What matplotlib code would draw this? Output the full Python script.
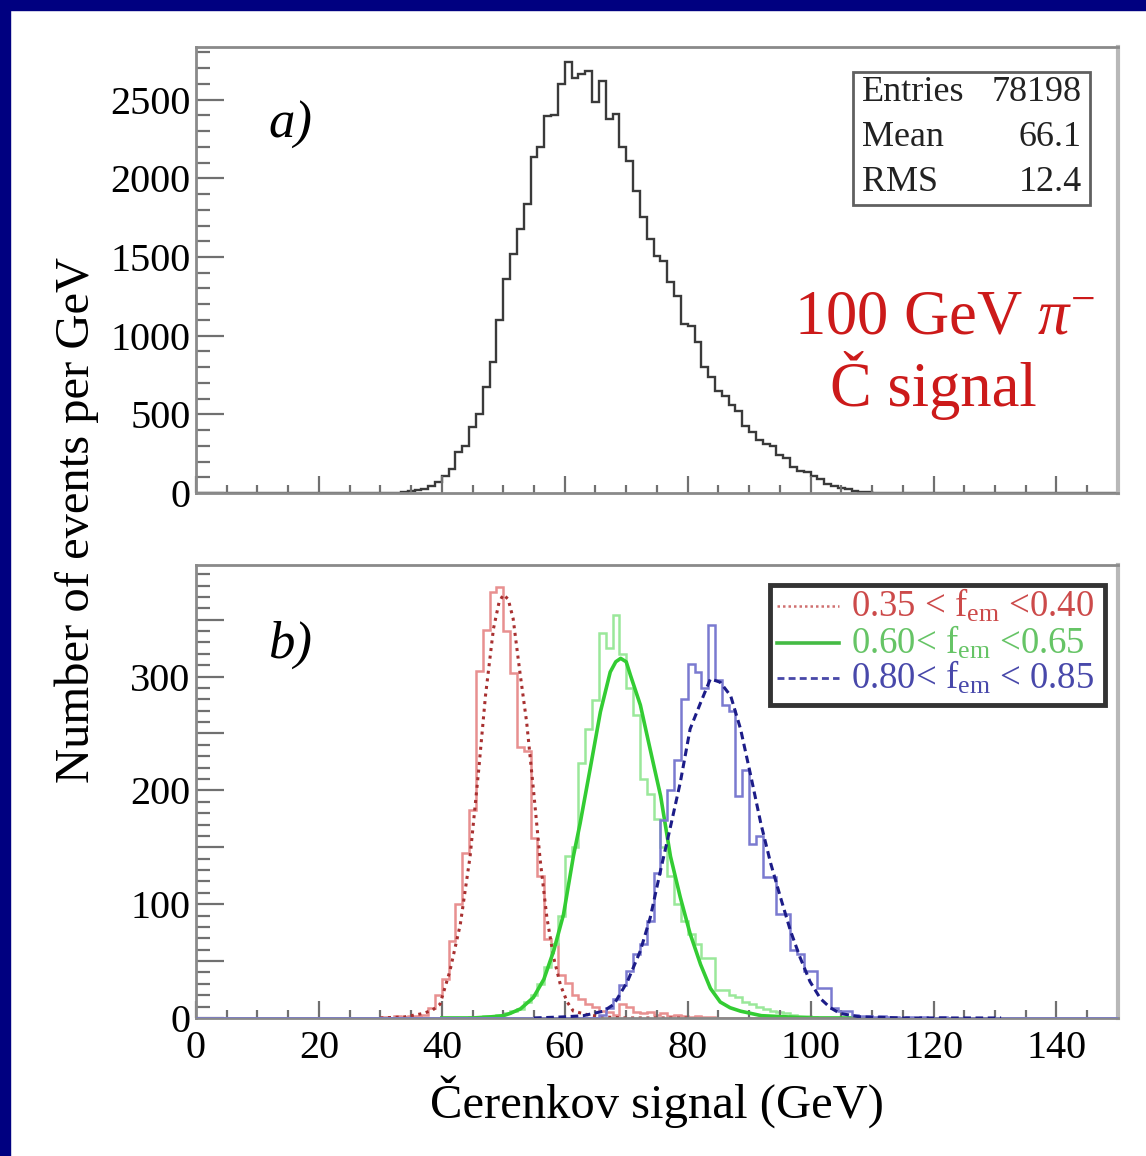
import numpy as np
import matplotlib
matplotlib.use("Agg")
import matplotlib.pyplot as plt
from matplotlib.patches import Rectangle
from matplotlib.ticker import MultipleLocator, FuncFormatter

plt.rcParams['font.family'] = ['Liberation Serif', 'DejaVu Serif']
plt.rcParams['mathtext.fontset'] = 'custom'
plt.rcParams['mathtext.rm'] = 'Liberation Serif'
plt.rcParams['mathtext.it'] = 'Liberation Serif:italic'

# binning: 135 bins over 0-150 GeV
n_bins = 135
x_max = 150.0

# a) all events, counts per GeV, values start at bin a_first
a_first = 27
a_counts = [0, 2, 3, 6, 10, 18, 28, 45, 68,
            110, 152, 258, 301, 417, 502, 671, 830, 1100, 1360,
            1519, 1677, 1836, 2133, 2196, 2398, 2400, 2600, 2736, 2635,
            2662, 2683, 2482, 2620, 2376, 2408, 2196, 2112, 1921, 1752,
            1614, 1508, 1476, 1339, 1254, 1074, 1063, 957, 798, 735,
            650, 618, 560, 520, 428, 390, 340, 311, 300, 240,
            220, 163, 140, 131, 110, 89, 60, 47, 30, 25, 12, 8, 5, 2]

# b) three f_em slices
red_first = 27
red_counts = [1, 0, 2, 1, 2, 2, 3, 9, 20, 34, 68, 100, 145, 183, 305, 341,
              374, 379, 340, 303, 238, 235, 158, 125, 69, 65, 38, 31, 20,
              17, 12, 10, 6, 5, 3, 12, 10, 5, 4, 5, 3, 4, 2, 3, 2, 1, 2, 1, 1]

green_first = 40
green_counts = [1, 1, 2, 2, 3, 4, 6, 8, 14, 20, 30, 45, 65, 90, 142, 150,
                224, 254, 279, 338, 325, 354, 320, 290, 266, 210, 197, 175,
                150, 125, 100, 85, 74, 65, 53, 53, 25, 25, 20, 18, 14, 12,
                10, 8, 6, 5, 4, 3, 2, 2, 1]

blue_first = 59
blue_counts = [3, 9, 17, 29, 41, 56, 65, 85, 127, 174, 200, 227, 280, 311,
               304, 290, 345, 297, 275, 270, 195, 218, 153, 160, 124, 124,
               91, 91, 60, 56, 41, 41, 26, 26, 9, 6, 6, 3, 2, 2, 1, 2, 1,
               1, 0, 1, 0, 1, 0, 0, 1]

# fitted curves
red_fit_x = [30, 34, 37, 38.5, 39.7, 41.3, 43.0, 44.6, 46.0, 47.1, 48.4, 49.3,
             50.0, 50.8, 51.6, 52.7, 53.8, 54.9, 56.0, 57.1, 58.2, 59.3, 60.4,
             61.4, 63.6, 65.8, 70, 75, 80]
red_fit_y = [0, 1, 4, 7, 12, 41, 82, 142, 218, 283, 342, 365, 372, 368, 351,
             304, 260, 201, 139, 88, 53, 29, 14, 6, 3, 1, 0, 0, 0]

green_fit_x = [40, 45, 48, 50, 51.1, 52.8, 54.9, 56.6, 58.2, 59.8, 61.4, 62.5,
               64.1, 65.8, 67.4, 68.3, 69.1, 70.0, 70.7, 72.3, 73.9, 75.6,
               77.2, 78.8, 80.4, 82.1, 83.7, 85.3, 86.9, 88.6, 92, 96, 100, 109]
green_fit_y = [0, 0, 1, 2, 4, 8, 18, 34, 59, 91, 142, 171, 218, 269, 304, 313,
               316, 313, 301, 275, 236, 195, 142, 106, 74, 47, 26, 14, 9, 6,
               2, 1, 0, 0]

blue_fit_x = [55, 60, 63, 66.3, 68.0, 70.2, 72.3, 73.9, 75.6, 77.2, 78.8, 80.4,
              82.1, 83.7, 85.3, 87.0, 88.6, 90.3, 91.9, 93.5, 95.1, 96.7, 98.3,
              99.9, 101.6, 103.2, 104.8, 108, 115, 131]
blue_fit_y = [0, 1, 2, 6, 12, 32, 59, 88, 130, 168, 207, 254, 277, 298, 295,
              283, 254, 212, 171, 136, 106, 77, 53, 32, 17, 9, 4, 1, 0, 0]

legend_labels = [r'0.35 < f$_{\rm em}$ <0.40',
                 r'0.60< f$_{\rm em}$ <0.65',
                 r'0.80< f$_{\rm em}$ < 0.85']

stats = [("Entries", "78198"), ("Mean", "66.1"), ("RMS", "12.4")]


def full(first, vals):
    h = np.zeros(n_bins)
    h[first:first + len(vals)] = vals
    return h


edges = np.linspace(0, x_max, n_bins + 1)

fig = plt.figure(figsize=(11.46, 11.56), dpi=100)
fig.patch.set_facecolor('white')
# navy slide border on left and top
fig.patches.append(Rectangle((0, 0), 10 / 1146, 1, transform=fig.transFigure,
                             color='#000080', zorder=-1))
fig.patches.append(Rectangle((0, 1 - 10 / 1156), 1, 10 / 1156,
                             transform=fig.transFigure, color='#000080', zorder=-1))

ax_a = fig.add_axes([0.171, 0.5735, 0.8045, 0.3858])
ax_b = fig.add_axes([0.171, 0.1194, 0.8045, 0.3918])


def style(ax):
    ax.set_xlim(0, x_max)
    for s in ax.spines.values():
        s.set_color('#8a8a8a')
        s.set_linewidth(2)
    ax.spines['right'].set_color('#b8b8b8')
    ax.spines['right'].set_linewidth(3)
    ax.xaxis.set_major_locator(MultipleLocator(20))
    ax.xaxis.set_minor_locator(MultipleLocator(5))
    ax.tick_params(axis='both', which='both', direction='in', color='#707070',
                   width=1.6, top=False, right=False, labelsize=29)
    ax.tick_params(axis='y', which='major', length=20, pad=4)
    ax.tick_params(axis='y', which='minor', length=10)
    ax.tick_params(axis='x', which='major', length=12, pad=9)
    ax.tick_params(axis='x', which='minor', length=6)


# ---- panel a
style(ax_a)
ax_a.set_ylim(0, 2834)
ax_a.yaxis.set_major_locator(MultipleLocator(500))
ax_a.yaxis.set_minor_locator(MultipleLocator(100))
ax_a.tick_params(axis='x', labelbottom=False)
ax_a.stairs(full(a_first, a_counts), edges, color='#3a3a3a', lw=1.7)

ax_a.text(0.102, 0.825, 'a)', transform=ax_a.transAxes, fontsize=38,
          style='italic', ha='center', va='center')
ax_a.add_patch(Rectangle((0.7126, 0.6457), 0.257, 0.2983, transform=ax_a.transAxes,
                         fill=False, edgecolor='#606060', lw=2))
for (key, val), yy in zip(stats, [0.897, 0.798, 0.697]):
    ax_a.text(0.722, yy, key, transform=ax_a.transAxes, fontsize=26,
              ha='left', va='center', color='#222222')
    ax_a.text(0.961, yy, val, transform=ax_a.transAxes, fontsize=26,
              ha='right', va='center', color='#222222')
ax_a.text(0.812, 0.392, r'100 GeV $\pi^{-}$', transform=ax_a.transAxes,
          fontsize=45, color='#cc1a1a', ha='center', va='center')
ax_a.text(0.80, 0.242, 'Č signal', transform=ax_a.transAxes,
          fontsize=45, color='#cc1a1a', ha='center', va='center')

# ---- panel b
style(ax_b)
ax_b.set_ylim(0, 398)
ax_b.yaxis.set_major_locator(MultipleLocator(50))
ax_b.yaxis.set_minor_locator(MultipleLocator(10))
ax_b.yaxis.set_major_formatter(FuncFormatter(
    lambda v, p: f"{v:.0f}" if v % 100 == 0 else ""))

ax_b.stairs(full(red_first, red_counts), edges, color='#e89090', lw=1.8)
ax_b.plot(red_fit_x, red_fit_y, color='#a83030', lw=2.2, ls=(0, (1, 1.5)))
ax_b.stairs(full(green_first, green_counts), edges, color='#9ae89a', lw=1.8)
ax_b.plot(green_fit_x, green_fit_y, color='#33cc33', lw=2.6)
ax_b.stairs(full(blue_first, blue_counts), edges, color='#7a7ad0', lw=1.8,
            zorder=3)
ax_b.plot(blue_fit_x, blue_fit_y, color='#1c1c88', lw=2.2, ls=(0, (2.5, 1.5)),
          zorder=3)

ax_b.text(0.102, 0.823, 'b)', transform=ax_b.transAxes, fontsize=38,
          style='italic', ha='center', va='center')

# legend box
ax_b.add_patch(Rectangle((0.623, 0.691), 0.363, 0.265, transform=ax_b.transAxes,
                         fill=False, edgecolor='#333333', lw=3.5, zorder=5))
leg_styles = [dict(color='#d07070', lw=1.8, ls=(0, (1, 1.2))),
              dict(color='#44bb44', lw=2.6, ls='-'),
              dict(color='#4848a8', lw=2.0, ls=(0, (2.5, 1.5)))]
leg_colors = ['#cc4a4a', '#66c466', '#4848aa']
for lab, st, tc, yy in zip(legend_labels, leg_styles, leg_colors, [0.909, 0.828, 0.751]):
    ax_b.plot([0.630, 0.697], [yy, yy], transform=ax_b.transAxes, **st)
    ax_b.text(0.711, yy, lab, transform=ax_b.transAxes, fontsize=26.5,
              color=tc, ha='left', va='center')

fig.text(0.067, 0.55, 'Number of events per GeV', rotation=90, fontsize=35,
         ha='center', va='center')
fig.text(0.573, 0.047, 'Čerenkov signal (GeV)', fontsize=35,
         ha='center', va='center')

fig.savefig('out.png', dpi=100)
